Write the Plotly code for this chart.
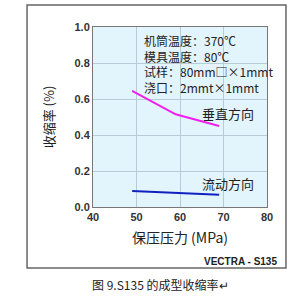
import plotly.graph_objects as go

x_pressure = [49, 59, 69]
perp = [0.645, 0.515, 0.45]
flow = [0.089, 0.078, 0.068]
x_ticks = [40, 50, 60, 70, 80]
y_ticks = [0.0, 0.2, 0.4, 0.6, 0.8, 1.0]
cond_lines = ["机筒温度：370℃", "模具温度：80℃", "试样：80mm□×1mmt", "浇口：2mmt×1mmt"]

FONT = "Noto Sans CJK SC, Arial, sans-serif"
fig = go.Figure()
fig.add_trace(go.Scatter(x=x_pressure, y=perp, mode="lines",
                         line=dict(color="#F020F0", width=2)))
fig.add_trace(go.Scatter(x=x_pressure, y=flow, mode="lines",
                         line=dict(color="#1020C0", width=2)))

fig.update_layout(
    width=289, height=300, showlegend=False,
    margin=dict(l=93, r=22, t=27, b=93),
    paper_bgcolor="white", plot_bgcolor="#E2F4FC",
    font=dict(family=FONT, color="#222"),
)
fig.update_xaxes(range=[40, 80], tickvals=x_ticks, ticktext=[f"<b>{v}</b>" for v in x_ticks],
                 showgrid=True, gridcolor="#B8CCD8", gridwidth=1,
                 showline=True, linecolor="#777", mirror=True, ticks="",
                 tickfont=dict(size=11, family="Liberation Sans, Arial", color="#333"),
                 title=dict(text="保压压力 (MPa)", font=dict(size=14, family=FONT, color="#222"), standoff=10),
                 zeroline=False)
fig.update_yaxes(range=[0, 1.0], tickvals=y_ticks, ticktext=[f"<b>{v:.1f}</b>" for v in y_ticks],
                 showgrid=True, gridcolor="#B8CCD8", gridwidth=1,
                 showline=True, linecolor="#777", mirror=True, ticks="",
                 tickfont=dict(size=11, family="Liberation Sans, Arial", color="#333"),
                 title=dict(text="收缩率 (%)", font=dict(size=13, family=FONT, color="#222"), standoff=16),
                 zeroline=False)

# outer frame
fig.add_shape(type="rect", xref="paper", yref="paper", x0=-0.379, x1=1.109, y0=-0.339, y1=1.122,
              line=dict(color="#666", width=1.5), fillcolor="rgba(0,0,0,0)", layer="below")

fig.add_annotation(xref="paper", yref="paper", x=0.28, y=0.985, xanchor="left", yanchor="top",
                   align="left", showarrow=False,
                   text="<br>".join(cond_lines), font=dict(size=12, family=FONT, color="#222"))
fig.add_annotation(x=71, y=0.52, text="垂直方向", showarrow=False, xanchor="center",
                   font=dict(size=13, family=FONT, color="#222"))
fig.add_annotation(x=71, y=0.13, text="流动方向", showarrow=False, xanchor="center",
                   font=dict(size=13, family=FONT, color="#222"))
fig.add_annotation(xref="paper", yref="paper", x=1.07, y=-0.30, xanchor="right", yanchor="middle",
                   text="<b>VECTRA - S135</b>", showarrow=False,
                   font=dict(size=10, family="Liberation Sans, Arial", color="#222"))
fig.add_annotation(xref="paper", yref="paper", x=0.39, y=-0.43, xanchor="center", yanchor="middle",
                   text="图 9.S135 的成型收缩率↵", showarrow=False,
                   font=dict(size=12, family=FONT, color="#222"))

fig.write_html("out.html")
